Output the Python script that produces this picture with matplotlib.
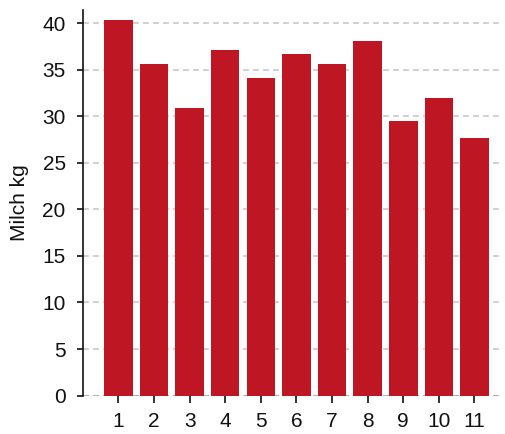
import matplotlib
matplotlib.use("Agg")
import matplotlib.pyplot as plt

categories = ["1", "2", "3", "4", "5", "6", "7", "8", "9", "10", "11"]
values = [40.3, 35.6, 30.9, 37.1, 34.1, 36.7, 35.6, 38.1, 29.5, 32.0, 27.7]
yticks = [0, 5, 10, 15, 20, 25, 30, 35, 40]
ylabel = "Milch kg"

plt.rcParams['font.family'] = ['Liberation Sans', 'DejaVu Sans']

fig = plt.figure(figsize=(5.05, 4.34), dpi=100)
ax = fig.add_axes([0.1638, 0.0885, 0.996 - 0.1638, 0.977 - 0.0885])

x = list(range(1, len(categories) + 1))
ax.bar(x, values, width=0.8, color="#BE1622", zorder=3)

ax.set_xlim(0, 11.8)
ax.set_ylim(0, 41.4)
ax.set_yticks(yticks)
ax.set_xticks(x)
ax.set_xticklabels(categories)

ax.grid(axis="y", color="#c8c8c8", linestyle=(0, (3.5, 2.5)), linewidth=1.2, zorder=0)
ax.axhline(0, color="#222222", linestyle=(0, (3.5, 2.5)), linewidth=1.2, zorder=1)

for s in ["top", "right", "bottom"]:
    ax.spines[s].set_visible(False)
ax.spines["left"].set_linewidth(1.2)
ax.spines["left"].set_color("#111111")

ax.tick_params(axis="y", length=4.3, width=1.2, pad=8, labelsize=15, colors="#111111")
ax.tick_params(axis="x", length=5, width=1.2, pad=7, labelsize=15, colors="#111111")

ax.set_ylabel(ylabel, fontsize=15, color="#111111")
ax.yaxis.set_label_coords(-0.128, 0.5)

fig.savefig("out.png", dpi=100)
